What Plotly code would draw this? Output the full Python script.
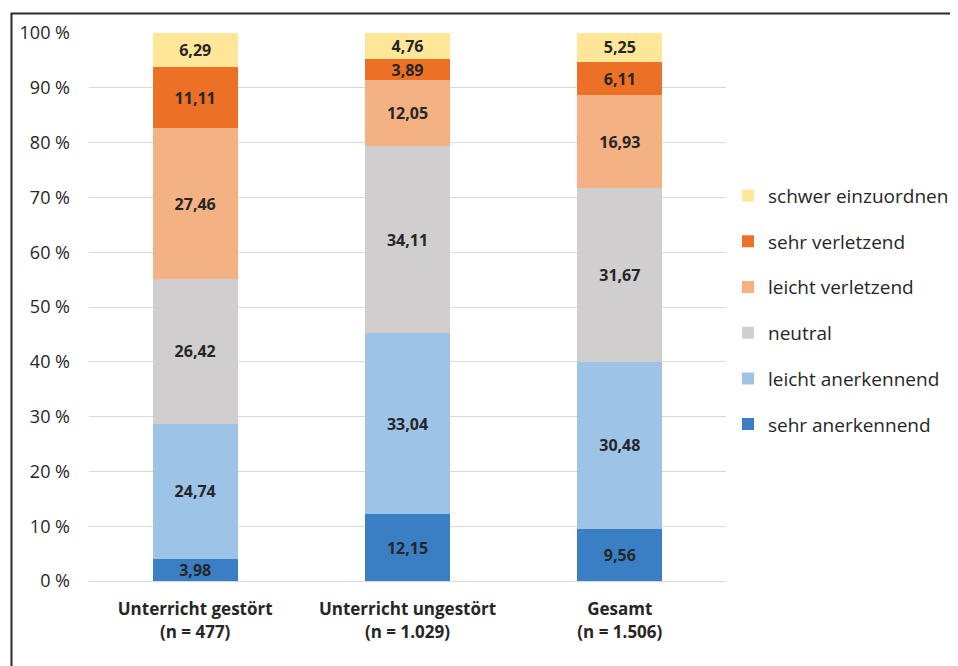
import plotly.graph_objects as go

categories = ["<b>Unterricht gestört</b><br><b>(n = 477)</b>",
              "<b>Unterricht ungestört</b><br><b>(n = 1.029)</b>",
              "<b>Gesamt</b><br><b>(n = 1.506)</b>"]
series_names = ["sehr anerkennend", "leicht anerkennend", "neutral",
                "leicht verletzend", "sehr verletzend", "schwer einzuordnen"]
sehr_anerkennend = [3.98, 12.15, 9.56]
leicht_anerkennend = [24.74, 33.04, 30.48]
neutral = [26.42, 34.11, 31.67]
leicht_verletzend = [27.46, 12.05, 16.93]
sehr_verletzend = [11.11, 3.89, 6.11]
schwer_einzuordnen = [6.29, 4.76, 5.25]
series_values = [sehr_anerkennend, leicht_anerkennend, neutral,
                 leicht_verletzend, sehr_verletzend, schwer_einzuordnen]
colors = ["#3A7FC4", "#9DC3E6", "#D0CECE", "#F4B183", "#EC7127", "#FFE699"]
y_ticks = [0, 10, 20, 30, 40, 50, 60, 70, 80, 90, 100]
y_tick_labels = [f"{v} %" for v in y_ticks]

FONT = "Open Sans"

fig = go.Figure()
n = len(series_names)
for i, (name, vals, col) in enumerate(zip(series_names, series_values, colors)):
    fig.add_trace(go.Bar(
        x=categories, y=vals, name=name, marker=dict(color=col, line=dict(width=0)),
        text=[f"{v:.2f}".replace(".", ",") for v in vals],
        textposition="inside", insidetextanchor="middle", textangle=0,
        constraintext="none",
        textfont=dict(family=FONT, size=16, color="#262626", weight="bold"),
        legendgroup=f"g{i}", legendrank=n - i, hoverinfo="skip",
    ))

W, H = 958, 666
OFF = 8  # page offset of the figure
# desired plot area in page pixels
px_l, px_r, px_t, px_b = 87, 728, 32, 581
ml, mr = px_l - OFF, W - (px_r - OFF)
mt, mb = px_t - OFF, H - (px_b - OFF)
pw, ph = W - ml - mr, H - mt - mb

def px_to_paper_x(px):
    return (px - OFF - ml) / pw

def px_to_paper_y(py):
    return (H - mb - (py - OFF)) / ph

fig.add_shape(type="rect", xref="paper", yref="paper",
              x0=px_to_paper_x(9), x1=px_to_paper_x(1000),
              y0=px_to_paper_y(720), y1=px_to_paper_y(12.5),
              line=dict(color="#2b2b2b", width=2), fillcolor="rgba(0,0,0,0)",
              layer="above")

fig.update_layout(
    width=W, height=H, barmode="stack", bargap=0.6,
    margin=dict(l=ml, r=mr, t=mt, b=mb),
    plot_bgcolor="white", paper_bgcolor="white",
    font=dict(family=FONT, color="#262626"),
    legend=dict(traceorder="grouped", tracegroupgap=18,
                x=px_to_paper_x(730), xanchor="left",
                y=px_to_paper_y(176), yanchor="top",
                font=dict(family=FONT, size=19, color="#262626"),
                itemwidth=30),
    xaxis=dict(showgrid=False, showline=False, ticks="outside", ticklen=13,
               tickcolor="rgba(0,0,0,0)",
               tickfont=dict(family=FONT, size=17, color="#262626")),
    yaxis=dict(range=[0, 100], tickvals=y_ticks, ticktext=y_tick_labels,
               showgrid=True, gridcolor="#D9D9D9", gridwidth=1,
               zeroline=True, zerolinecolor="#D9D9D9", zerolinewidth=1,
               showline=False, ticklabelstandoff=18,
               tickfont=dict(family=FONT, size=18, color="#262626")),
)

fig.write_html("out.html")
